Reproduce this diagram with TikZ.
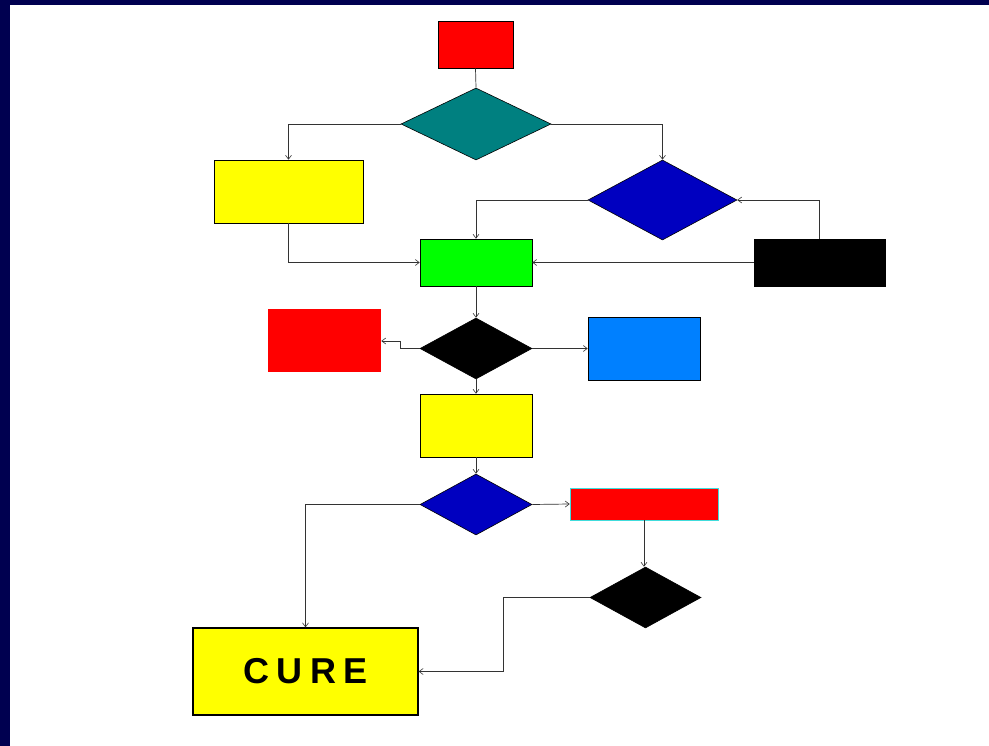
\documentclass[tikz,border=0pt]{standalone}
\usepackage{fontspec}
\setmainfont{Liberation Sans}
\newfontfamily\curefont[LetterSpace=20]{Liberation Sans}
\usetikzlibrary{arrows.meta,shapes.geometric}
\definecolor{navy}{RGB}{0,0,80}
\definecolor{teal2}{RGB}{0,128,128}
\definecolor{blue2}{RGB}{0,0,192}
\definecolor{sky}{RGB}{0,128,255}
\definecolor{yel}{RGB}{255,255,0}
\definecolor{cyanedge}{RGB}{64,220,220}
\begin{document}
\begin{tikzpicture}[x=1pt,y=-1pt,
  box/.style={draw=black,line width=0.6pt,inner sep=0pt},
  conn/.style={draw=black!80,line width=0.7pt},
  arr/.style={conn,-{Straight Barb[length=4pt,width=6pt,line width=0.6pt]}}]
\useasboundingbox (0,0) rectangle (989,746);
\fill[white] (0,0) rectangle (989,746);
\fill[navy] (0,0) rectangle (989,5);
\fill[navy] (0,0) rectangle (10,746);
% boxes
\node[box,fill=red,minimum width=75pt,minimum height=47pt] (start) at (475.5,44.5) {};
\node[box,fill=teal2,diamond,minimum width=150pt,minimum height=72pt] (d1) at (476,124) {};
\node[box,fill=yel,minimum width=149pt,minimum height=63pt] (y1) at (288.5,191.5) {};
\node[box,fill=blue2,diamond,minimum width=149pt,minimum height=80pt] (d2) at (662.5,200) {};
\node[box,fill=green,minimum width=112pt,minimum height=47pt] (g) at (476,262.5) {};
\node[box,fill=black,minimum width=131pt,minimum height=47pt] (k) at (819.5,262.5) {};
\node[box,fill=black,diamond,minimum width=112pt,minimum height=61pt] (d3) at (476,348.5) {};
\node[box,draw=none,fill=red,minimum width=113pt,minimum height=63pt] (r2) at (324.5,340.5) {};
\node[box,fill=sky,minimum width=112pt,minimum height=63pt] (b) at (644,348.5) {};
\node[box,fill=yel,minimum width=112pt,minimum height=63pt] (y2) at (476,425.5) {};
\node[box,fill=blue2,diamond,minimum width=112pt,minimum height=61pt] (d4) at (476,504.5) {};
\node[box,draw=cyanedge,fill=red,minimum width=148pt,minimum height=32pt] (r3) at (644,504) {};
\node[box,fill=black,diamond,minimum width=111pt,minimum height=61pt] (d5) at (645.5,597.5) {};
\node[box,fill=yel,line width=1.2pt,minimum width=225pt,minimum height=87pt,
  font=\curefont\bfseries\fontsize{36}{36}\selectfont] (cure) at (305.5,671.5) {CURE};
% connectors
\draw[conn] (start.south) -- (d1.north);
\draw[arr] (d1.west) -| (y1.north);
\draw[arr] (d1.east) -| (d2.north);
\draw[arr] (d2.west) -| (g.north);
\draw[arr] (y1.south) |- (g.west);
\draw[arr] (k.north) |- (d2.east);
\draw[arr] (k.west) -- (g.east);
\draw[arr] (g.south) -- (d3.north);
\draw[arr] (d3.west) -- (400,348.5) -- (400,341) -- (r2.east |- 0,341);
\draw[arr] (d3.east) -- (b.west);
\draw[arr] (d3.south) -- (y2.north);
\draw[arr] (y2.south) -- (d4.north);
\draw[arr] (d4.east) -- (r3.west);
\draw[arr] (d4.west) -| (cure.north);
\draw[arr] (r3.south) -- (r3.south |- d5.north);
\draw[arr] (d5.west) -- (503,597.5) |- (cure.east);
\end{tikzpicture}
\end{document}
